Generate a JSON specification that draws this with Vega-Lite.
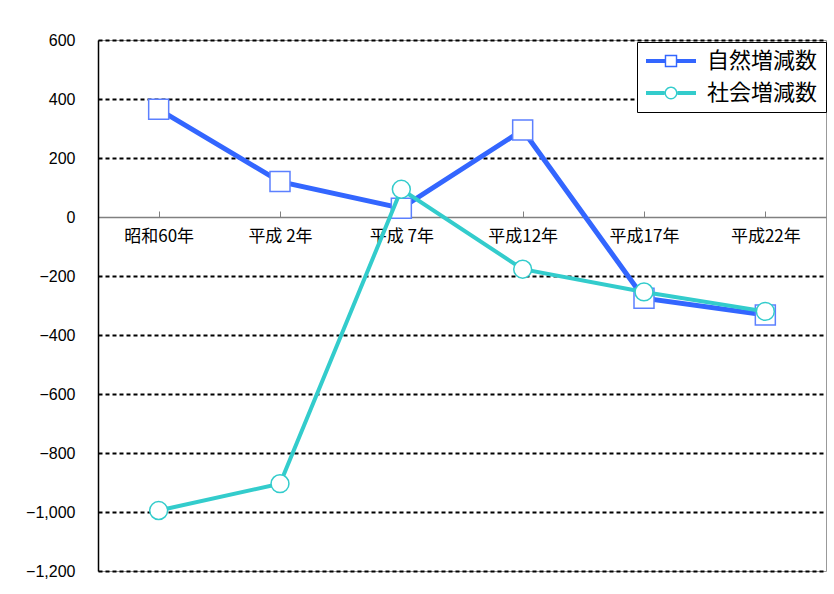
{
  "$schema": "https://vega.github.io/schema/vega-lite/v6.json",
  "autosize": "none",
  "width": 728,
  "height": 531,
  "padding": {"left": 98, "top": 40, "right": 8, "bottom": 23},
  "background": "white",
  "config": {
    "view": {"stroke": "#999999", "strokeWidth": 1},
    "font": "Liberation Sans"
  },
  "data": {
    "values": [
      {"year": "昭和60年", "series": "自然増減数", "value": 365},
      {"year": "平成 2年", "series": "自然増減数", "value": 120},
      {"year": "平成 7年", "series": "自然増減数", "value": 30},
      {"year": "平成12年", "series": "自然増減数", "value": 295},
      {"year": "平成17年", "series": "自然増減数", "value": -275},
      {"year": "平成22年", "series": "自然増減数", "value": -332},
      {"year": "昭和60年", "series": "社会増減数", "value": -995},
      {"year": "平成 2年", "series": "社会増減数", "value": -904},
      {"year": "平成 7年", "series": "社会増減数", "value": 94},
      {"year": "平成12年", "series": "社会増減数", "value": -177},
      {"year": "平成17年", "series": "社会増減数", "value": -254},
      {"year": "平成22年", "series": "社会増減数", "value": -320}
    ]
  },
  "encoding": {
    "x": {
      "field": "year",
      "type": "nominal",
      "sort": null,
      "scale": {"paddingInner": 0, "paddingOuter": 0},
      "axis": {
        "title": null,
        "orient": "bottom",
        "offset": -354,
        "labelAngle": 0,
        "labelFont": "Noto Sans CJK JP",
        "labelFontSize": 17,
        "labelColor": "black",
        "labelPadding": 17,
        "domainColor": "#808080",
        "domainWidth": 1.5,
        "tickColor": "#808080",
        "tickWidth": 1,
        "tickSize": -6,
        "bandPosition": 0,
        "grid": false
      }
    },
    "y": {
      "field": "value",
      "type": "quantitative",
      "scale": {"domain": [-1200, 600], "nice": false, "zero": false},
      "axis": {
        "title": null,
        "values": [-1200, -1000, -800, -600, -400, -200, 0, 200, 400, 600],
        "format": ",.0f",
        "labelFont": "Liberation Sans",
        "labelFontSize": 16,
        "labelColor": "black",
        "labelPadding": 23,
        "ticks": false,
        "domainColor": "black",
        "domainWidth": 1.5,
        "grid": true,
        "gridColor": "black",
        "gridWidth": 2,
        "gridDash": [4, 3],
        "gridOpacity": {"condition": {"test": "datum.value === 0", "value": 0}, "value": 1}
      }
    }
  },
  "layer": [
    {
      "transform": [{"filter": "datum.series === '自然増減数'"}],
      "mark": {"type": "line", "strokeWidth": 5},
      "encoding": {
        "color": {
          "field": "series",
          "type": "nominal",
          "scale": {"domain": ["自然増減数", "社会増減数"], "range": ["#3366FF", "#33CCCC"]},
          "legend": {
            "title": null,
            "orient": "none",
            "legendX": 539,
            "legendY": 2,
            "labelFont": "Noto Sans CJK JP",
            "labelFontSize": 22,
            "labelColor": "black",
            "labelOffset": 40,
            "symbolSize": 256,
            "rowPadding": 10,
            "padding": 8,
            "strokeColor": "black",
            "fillColor": "white",
            "encode": {
              "symbols": {
                "update": {
                  "shape": {"signal": "datum.value === '自然増減数' ? 'M-3.125,-0.25H-0.78V0.25H-3.125Z M0.78,-0.25H3.125V0.25H0.78Z M-0.78,-0.78H0.78V0.78H-0.78Z M-0.6,-0.6V0.6H0.6V-0.6Z' : 'M-3.125,-0.25H-0.81V0.25H-3.125Z M0.81,-0.25H3.125V0.25H0.81Z M-0.81,0A0.81,0.81 0 1,0 0.81,0A0.81,0.81 0 1,0 -0.81,0Z M-0.63,0A0.63,0.63 0 1,1 0.63,0A0.63,0.63 0 1,1 -0.63,0Z'"},
                  "fill": {"scale": "color", "field": "value"},
                  "fillOpacity": {"value": 1},
                  "stroke": {"value": "transparent"},
                  "strokeWidth": {"value": 0},
                  "x": {"value": 26}
                }
              }
            }
          }
        }
      }
    },
    {
      "transform": [{"filter": "datum.series === '自然増減数'"}],
      "mark": {"type": "point", "shape": "square", "size": 400, "filled": true, "fill": "white", "stroke": "#5C80FF", "strokeWidth": 1.5, "opacity": 1}
    },
    {
      "transform": [{"filter": "datum.series === '社会増減数'"}],
      "mark": {"type": "line", "strokeWidth": 4},
      "encoding": {
        "color": {"field": "series", "type": "nominal"}
      }
    },
    {
      "transform": [{"filter": "datum.series === '社会増減数'"}],
      "mark": {"type": "point", "shape": "circle", "size": 320, "filled": true, "fill": "white", "stroke": "#33CCCC", "strokeWidth": 1.5, "opacity": 1}
    }
  ]
}
